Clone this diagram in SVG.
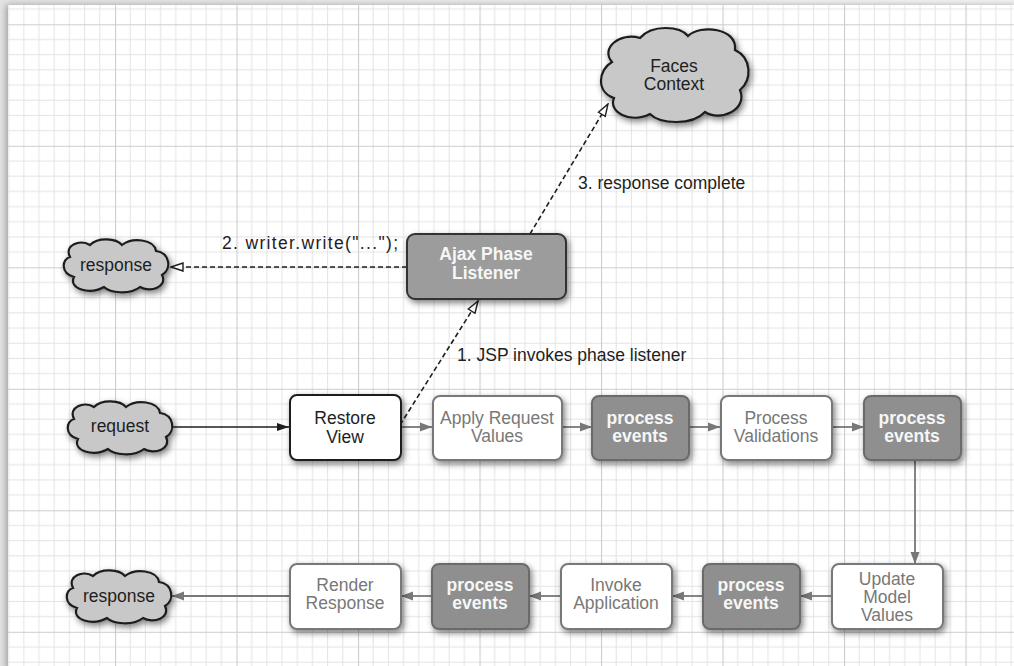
<svg xmlns="http://www.w3.org/2000/svg" xmlns:xlink="http://www.w3.org/1999/xlink" width="1014" height="666" viewBox="0 0 1014 666">
  <style>
    text { font-family: "Liberation Sans", Arial, sans-serif; font-size: 17.5px; text-anchor: middle; }
    .dark { fill: #1e1e1e; }
    .grey { fill: #787878; }
    .bold { font-weight: bold; fill: #f6f6f6; }
    .label { text-anchor: start; fill: #1e1e1e; }
    .cloud { fill: #c8c8c8; stroke: #1e1e1e; stroke-width: 2.2; }
    .box-main { fill: #fff; stroke: #1e1e1e; stroke-width: 2; }
    .box-grey { fill: #fff; stroke: #787878; stroke-width: 2; }
    .box-ev { fill: #8f8f8f; stroke: #6b6b6b; stroke-width: 2; }
    .box-ajax { fill: #9c9c9c; stroke: #333; stroke-width: 2; }
    .flow-dark { stroke: #1e1e1e; stroke-width: 1.6; fill: none; }
    .flow-grey { stroke: #787878; stroke-width: 1.8; fill: none; }
    .dashed { stroke: #1e1e1e; stroke-width: 1.6; fill: none; stroke-dasharray: 5 3; }
  </style>
  <defs>
    <linearGradient id="edge" x1="0" y1="0" x2="1" y2="0">
      <stop offset="0" stop-color="#e2e2e2"/>
      <stop offset="1" stop-color="#f4f4f4"/>
    </linearGradient>
    <pattern id="grid" patternUnits="userSpaceOnUse" x="115" y="24.3" width="121.5" height="121.5">
      <g stroke="#e3e3e3" stroke-width="1">
        <path d="M15.19 0V121.5M30.38 0V121.5M45.56 0V121.5M60.75 0V121.5M75.94 0V121.5M91.13 0V121.5M106.31 0V121.5"/>
        <path d="M0 15.19H121.5M0 30.38H121.5M0 45.56H121.5M0 60.75H121.5M0 75.94H121.5M0 91.13H121.5M0 106.31H121.5"/>
      </g>
      <path d="M0.5 0V121.5M0 0.5H121.5" stroke="#cdcdcd" stroke-width="1.2"/>
    </pattern>
    <filter id="shadow" x="-20%" y="-20%" width="140%" height="150%">
      <feDropShadow dx="2" dy="3" stdDeviation="3" flood-color="#000" flood-opacity="0.5"/>
    </filter>
    <filter id="paperShadow" x="-5%" y="-5%" width="110%" height="110%">
      <feDropShadow dx="-2" dy="0" stdDeviation="3" flood-color="#000" flood-opacity="0.3"/>
    </filter>
    <!-- small cloud outline, centred on the origin -->
    <path id="cloudSmall" d="M-46,-8 C-52,-20 -36,-26 -26,-20 C-18,-28 0,-27 6,-20 C16,-28 38,-26 40,-14 C54,-12 56,4 46,10 C52,22 34,28 24,22 C14,30 -6,28 -12,22 C-26,30 -48,24 -42,12 C-56,8 -54,-6 -46,-8 Z"/>
    <marker id="solidDark" viewBox="0 0 12 10" refX="12" refY="5" markerWidth="12" markerHeight="10" markerUnits="userSpaceOnUse" orient="auto">
      <path d="M0,1 L12,5 L0,9 Z" fill="#1e1e1e"/>
    </marker>
    <marker id="solidGrey" viewBox="0 0 12 10" refX="12" refY="5" markerWidth="12" markerHeight="10" markerUnits="userSpaceOnUse" orient="auto">
      <path d="M0,0.5 L12,5 L0,9.5 Z" fill="#787878"/>
    </marker>
    <marker id="openTri" viewBox="0 0 14 10" refX="13" refY="5" markerWidth="14" markerHeight="10" markerUnits="userSpaceOnUse" orient="auto">
      <path d="M1,1 L13,5 L1,9 Z" fill="#fff" stroke="#1e1e1e" stroke-width="1.4"/>
    </marker>
  </defs>

  <!-- paper with grid -->
  <rect x="0" y="0" width="1014" height="666" fill="url(#edge)"/>
  <rect x="8" y="5" width="1010" height="665" fill="#fff" filter="url(#paperShadow)"/>
  <rect x="8" y="5" width="1006" height="661" fill="url(#grid)"/>

  <!-- connectors -->
  <g id="connectors">
    <path class="flow-dark" d="M173,427 H289" marker-end="url(#solidDark)"/>
    <path class="flow-grey" d="M401,427 H432" marker-end="url(#solidGrey)"/>
    <path class="flow-grey" d="M562,427 H592" marker-end="url(#solidGrey)"/>
    <path class="flow-grey" d="M689,427 H720" marker-end="url(#solidGrey)"/>
    <path class="flow-grey" d="M832,427 H864" marker-end="url(#solidGrey)"/>
    <path class="flow-grey" d="M915,460 V564" marker-end="url(#solidGrey)"/>
    <path class="flow-grey" d="M832,596 H800" marker-end="url(#solidGrey)"/>
    <path class="flow-grey" d="M703,596 H672" marker-end="url(#solidGrey)"/>
    <path class="flow-grey" d="M561,596 H529" marker-end="url(#solidGrey)"/>
    <path class="flow-grey" d="M432,596 H401" marker-end="url(#solidGrey)"/>
    <path class="flow-grey" d="M290,596 H172" marker-end="url(#solidGrey)"/>
    <path class="dashed" d="M400,425 L478,301" marker-end="url(#openTri)"/>
    <path class="dashed" d="M407,267 H171" marker-end="url(#openTri)"/>
    <path class="dashed" d="M530,234 L608,104" marker-end="url(#openTri)"/>
    <text class="label" x="457" y="361">1. JSP invokes phase listener</text>
    <text class="label" x="222" y="249" textLength="176" lengthAdjust="spacing">2. writer.write("...");</text>
    <text class="label" x="578" y="189">3. response complete</text>
  </g>

  <!-- nodes -->
  <g id="faces-context">
    <path class="cloud" filter="url(#shadow)" d="M612,62 C600,48 620,32 640,38 C652,24 680,26 688,36 C700,24 738,28 735,50 C752,58 752,80 740,90 C748,110 720,122 705,112 C692,126 660,124 650,114 C630,124 608,112 614,98 C596,92 598,70 612,62 Z"/>
    <text class="dark" x="674" y="72">Faces</text>
    <text class="dark" x="674" y="90">Context</text>
  </g>

  <g id="response-top">
    <use href="#cloudSmall" class="cloud" filter="url(#shadow)" transform="translate(116,265)"/>
    <text class="dark" x="116" y="271">response</text>
  </g>

  <g id="ajax-listener">
    <rect class="box-ajax" filter="url(#shadow)" x="407" y="234" width="159" height="65" rx="8"/>
    <text class="bold" x="486" y="260">Ajax Phase</text>
    <text class="bold" x="486" y="279">Listener</text>
  </g>

  <g id="request">
    <use href="#cloudSmall" class="cloud" filter="url(#shadow)" transform="translate(120,427)"/>
    <text class="dark" x="120" y="432">request</text>
  </g>

  <g id="restore-view">
    <rect class="box-main" filter="url(#shadow)" x="290" y="395" width="111" height="65" rx="7"/>
    <text class="dark" x="345" y="424">Restore</text>
    <text class="dark" x="345" y="443">View</text>
  </g>

  <g id="apply-request-values">
    <rect class="box-grey" filter="url(#shadow)" x="433" y="396" width="129" height="64" rx="7"/>
    <text class="grey" x="497" y="424">Apply Request</text>
    <text class="grey" x="497" y="442">Values</text>
  </g>

  <g id="process-events-1">
    <rect class="box-ev" filter="url(#shadow)" x="592" y="396" width="97" height="64" rx="7"/>
    <text class="bold" x="640" y="424">process</text>
    <text class="bold" x="640" y="442">events</text>
  </g>

  <g id="process-validations">
    <rect class="box-grey" filter="url(#shadow)" x="721" y="396" width="111" height="64" rx="7"/>
    <text class="grey" x="776" y="424">Process</text>
    <text class="grey" x="776" y="442">Validations</text>
  </g>

  <g id="process-events-2">
    <rect class="box-ev" filter="url(#shadow)" x="864" y="396" width="97" height="64" rx="7"/>
    <text class="bold" x="912" y="424">process</text>
    <text class="bold" x="912" y="442">events</text>
  </g>

  <g id="update-model-values">
    <rect class="box-grey" filter="url(#shadow)" x="832" y="564" width="111" height="65" rx="7"/>
    <text class="grey" x="887" y="585">Update</text>
    <text class="grey" x="887" y="603">Model</text>
    <text class="grey" x="887" y="621">Values</text>
  </g>

  <g id="process-events-3">
    <rect class="box-ev" filter="url(#shadow)" x="703" y="564" width="97" height="65" rx="7"/>
    <text class="bold" x="751" y="591">process</text>
    <text class="bold" x="751" y="609">events</text>
  </g>

  <g id="invoke-application">
    <rect class="box-grey" filter="url(#shadow)" x="561" y="564" width="111" height="65" rx="7"/>
    <text class="grey" x="616" y="591">Invoke</text>
    <text class="grey" x="616" y="609">Application</text>
  </g>

  <g id="process-events-4">
    <rect class="box-ev" filter="url(#shadow)" x="432" y="564" width="97" height="65" rx="7"/>
    <text class="bold" x="480" y="591">process</text>
    <text class="bold" x="480" y="609">events</text>
  </g>

  <g id="render-response">
    <rect class="box-grey" filter="url(#shadow)" x="290" y="564" width="111" height="65" rx="7"/>
    <text class="grey" x="345" y="591">Render</text>
    <text class="grey" x="345" y="609">Response</text>
  </g>

  <g id="response-bottom">
    <use href="#cloudSmall" class="cloud" filter="url(#shadow)" transform="translate(119,596)"/>
    <text class="dark" x="119" y="602">response</text>
  </g>
</svg>
